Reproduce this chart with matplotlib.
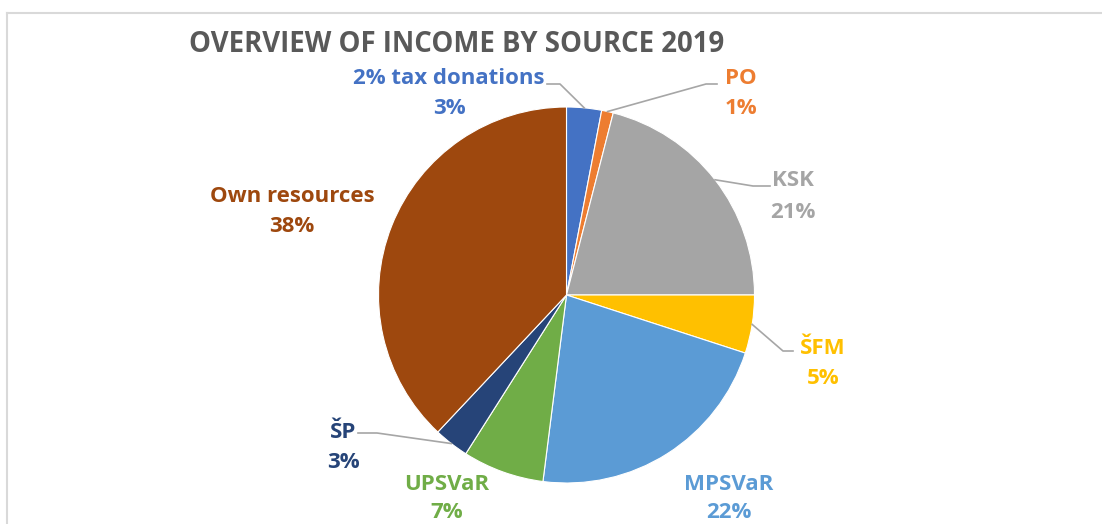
import numpy as np
import matplotlib.pyplot as plt
from matplotlib.lines import Line2D

# data
sources = ["2% tax donations", "PO", "KSK", "ŠFM", "MPSVaR", "UPSVaR", "ŠP", "Own resources"]
shares = [3, 1, 21, 5, 22, 7, 3, 38]
colors = ["#4472C4", "#ED7D31", "#A5A5A5", "#FFC000", "#5B9BD5", "#70AD47", "#264478", "#9E480E"]

W, H = 1102, 524
# label centres (pixel coords, y measured from top) of the first line
label_pos = [(449, 78), (741, 78), (793, 181), (823, 348), (729, 484), (447, 484), (343, 432), (292, 196)]
# leader line: text-side end x, y and elbow x (None = no leader)
leaders = [(547, 84, 560), (717, 84, 706), (770, 186, 753), (793, 351, 783), None, None, (358, 433, 377), None]

plt.rcParams['font.family'] = ['Open Sans', 'DejaVu Sans']
fig = plt.figure(figsize=(W / 100, H / 100), dpi=100)
ax = fig.add_axes([0, 0, 1, 1])

cx, cy, r = 566.5, H - 295, 188
wedges, _ = ax.pie(shares, colors=colors, startangle=90, counterclock=False,
                   center=(cx, cy), radius=r, frame=True,
                   wedgeprops=dict(edgecolor='white', linewidth=0.8))
ax.set_xlim(0, W)
ax.set_ylim(0, H)
ax.axis('off')

for i, w in enumerate(wedges):
    x, y = label_pos[i]
    gap = 29 if y > 470 else 31
    ax.text(x, H - y, sources[i], color=colors[i], fontsize=16, fontweight='bold',
            ha='center', va='center')
    ax.text(x, H - y - gap, f"{shares[i]}%", color=colors[i], fontsize=16, fontweight='bold',
            ha='center', va='center')
    if leaders[i] is not None:
        tx, ty, ex = leaders[i]
        mid = np.deg2rad((w.theta1 + w.theta2) / 2)
        px, py = cx + r * np.cos(mid), cy + r * np.sin(mid)
        ax.plot([tx, ex, px], [H - ty, H - ty, py], color='#A6A6A6', lw=1.2)

ax.text(457, H - 45, "OVERVIEW OF INCOME BY SOURCE 2019", color='#595959',
        fontsize=19.8, fontweight='bold', ha='center', va='center')

# chart frame
fig.add_artist(Line2D([7 / W, 1], [1 - 13 / H, 1 - 13 / H], color='#D9D9D9', lw=1.5))
fig.add_artist(Line2D([7 / W, 7 / W], [0, 1 - 13 / H], color='#D9D9D9', lw=1.5))

fig.savefig("out.png", dpi=100)
